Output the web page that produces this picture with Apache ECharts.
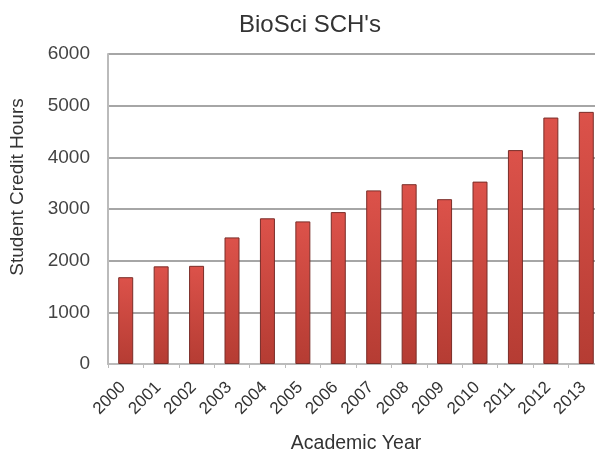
<!DOCTYPE html>
<html><head><meta charset="utf-8">
<script src="https://cdn.jsdelivr.net/npm/echarts@6/dist/echarts.min.js"></script>
<style>html,body{margin:0;padding:0;background:#fff}#c{width:595px;height:451px}</style>
</head><body><div id="c"></div>
<script>
const years = ['2000','2001','2002','2003','2004','2005','2006','2007','2008','2009','2010','2011','2012','2013'];
const sch = [1680, 1890, 1900, 2450, 2820, 2760, 2940, 3360, 3480, 3190, 3530, 4140, 4770, 4880];
const yTicks = [0, 1000, 2000, 3000, 4000, 5000, 6000];

const chart = echarts.init(document.getElementById('c'));
chart.setOption({
  animation: false,
  textStyle: {fontFamily: 'Liberation Sans, Arial, sans-serif'},
  title: {
    text: "BioSci SCH's", left: 234, top: 8,
    textStyle: {fontSize: 24, fontWeight: 'normal', color: '#333', fontFamily: 'Liberation Sans'}
  },
  grid: {left: 108, top: 54, bottom: 87, right: -9, containLabel: false, outerBoundsMode: 'none'},
  xAxis: {
    type: 'category', data: years,
    name: 'Academic Year', nameLocation: 'middle', nameGap: 70,
    nameTextStyle: {fontSize: 19.5, color: '#333'},
    axisLine: {lineStyle: {color: '#bbb', width: 2}},
    axisTick: {show: true, length: 4, lineStyle: {color: '#bbb'}},
    axisLabel: {rotate: 45, fontSize: 17, color: '#333', margin: 18, padding: [0, 4, 0, 0], interval: 0}
  },
  yAxis: {
    type: 'value', min: yTicks[0], max: yTicks[yTicks.length - 1], interval: 1000,
    name: 'Student Credit Hours', nameLocation: 'middle', nameGap: 81,
    nameTextStyle: {fontSize: 19, color: '#333', padding: [0, 0, 0, 44]},
    axisLine: {show: true, lineStyle: {color: '#bbb', width: 2}},
    axisTick: {show: false},
    axisLabel: {fontSize: 19, color: '#444', margin: 18, formatter: v => String(v)},
    splitLine: {lineStyle: {color: '#888', width: 1.5}}
  },
  series: [{
    type: 'bar', data: sch, barWidth: 15,
    itemStyle: {
      color: new echarts.graphic.LinearGradient(0, 0, 0, 1, [
        {offset: 0, color: '#dc524a'}, {offset: 1, color: '#b53c33'}
      ]),
      borderColor: '#7a2d28', borderWidth: 1
    }
  }]
});
</script></body></html>
